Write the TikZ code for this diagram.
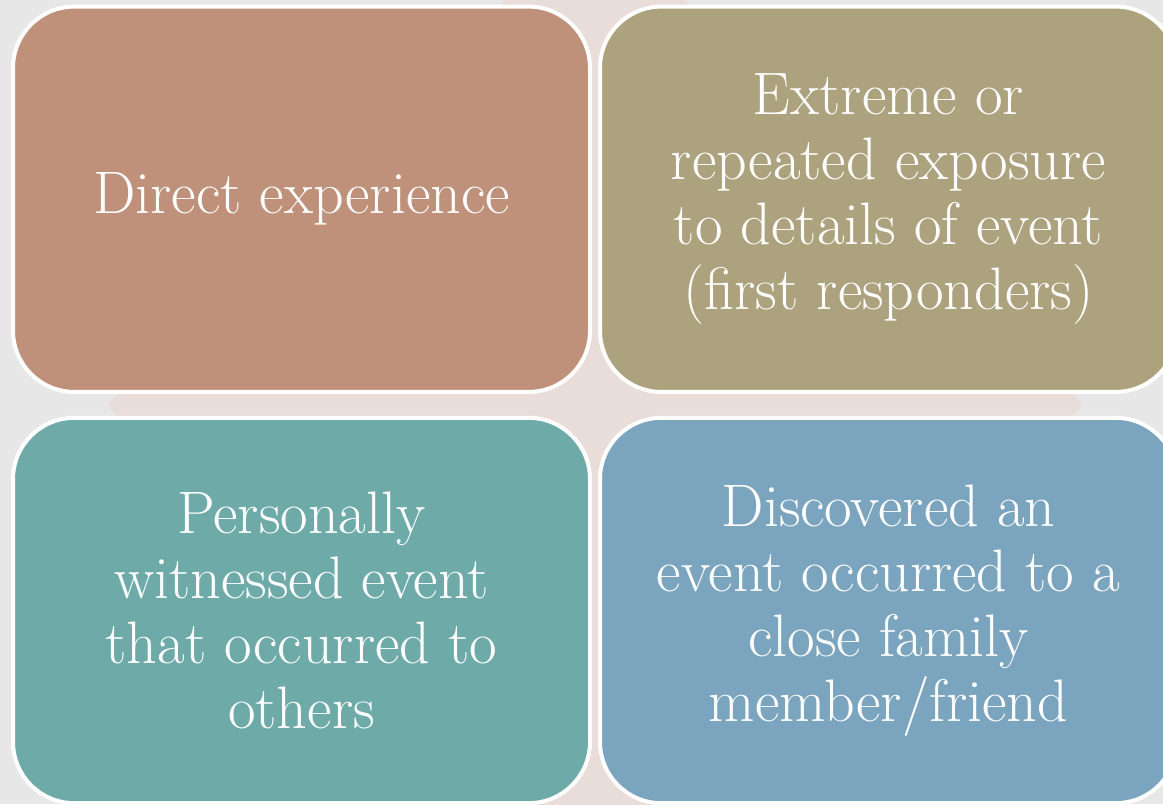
\documentclass[tikz,border=0pt]{standalone}
\usepackage{amsmath}
\usepackage{fontspec}
\usepackage{tikz}

\definecolor{bggray}{RGB}{231,231,231}
\definecolor{crosspink}{RGB}{232,221,216}
\definecolor{clay}{RGB}{191,145,122}
\definecolor{olive}{RGB}{172,162,126}
\definecolor{teal}{RGB}{110,171,168}
\definecolor{steel}{RGB}{123,165,190}

\begin{document}
\begin{tikzpicture}[x=0.75pt,y=0.75pt,yscale=-1,xscale=1,
    quadbox/.style={draw=white, line width=3pt, rounded corners=46pt,
      minimum width=432.75pt, minimum height=289pt, inner sep=0pt,
      text=white, align=center,
      font=\fontsize{45}{48.75}\selectfont\addfontfeature{LetterSpace=2}}]
            %Background
            \path [use as bounding box, fill=bggray] (0,0) rectangle (1163,804) ;
            \clip (0,0) rectangle (1163,804) ;
            %Quad Arrow
            \fill [crosspink] (107,405) -- (307,205) -- (307,305) -- (495,305) -- (495,111) -- (395,111) -- (595,-89) -- (795,111) -- (695,111) -- (695,305) -- (883,305) -- (883,205) -- (1083,405) -- (883,605) -- (883,505) -- (695,505) -- (695,699) -- (795,699) -- (595,899) -- (395,699) -- (495,699) -- (495,505) -- (307,505) -- (307,605) -- cycle ;
            %Rounded Rect
            \node [quadbox, fill=clay] (direct) at (301.5,199.25) {Direct experience};
            %Rounded Rect
            \node [quadbox, fill=olive] (exposure) at (888.5,199.25) {Extreme or\\repeated exposure\\to details of event\\(first responders)};
            %Rounded Rect
            \node [quadbox, fill=teal] (witnessed) at (301.5,610.5) {Personally\\witnessed event\\that occurred to\\others};
            %Rounded Rect
            \node [quadbox, fill=steel] (discovered) at (888.5,610.5) {Discovered an\\event occurred to a\\close family\\member/friend};
        \end{tikzpicture}
\end{document}
